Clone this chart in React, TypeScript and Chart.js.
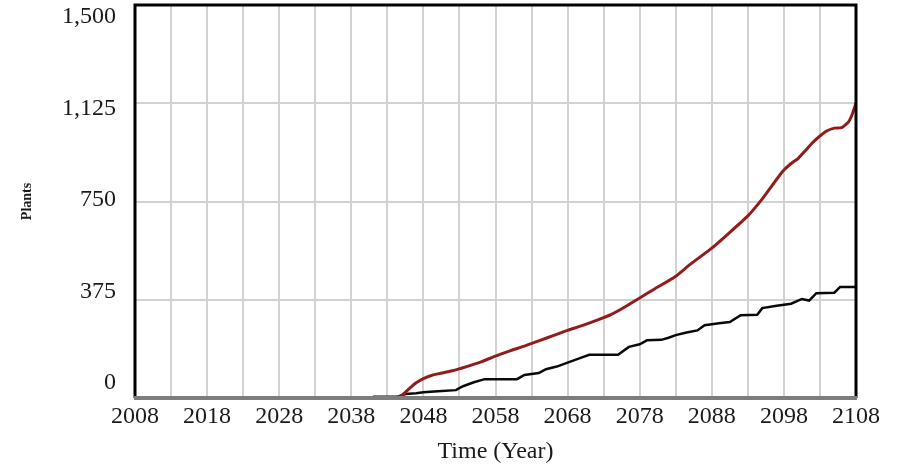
import React, { useEffect, useRef } from 'react';
import { Chart, registerables } from 'chart.js';

Chart.register(...registerables);

const xMin = 2008;
const xMax = 2108;
const yTickLabels = [0, 375, 750, 1125, 1500];

const redYears = [2044, 2045, 2046, 2047, 2048, 2049, 2050, 2052, 2054, 2056, 2058, 2060, 2062, 2064, 2066, 2068, 2070, 2072, 2074, 2076, 2078, 2080, 2083, 2085, 2088, 2090, 2093, 2095, 2097, 2098, 2099, 2100, 2101, 2102, 2103, 2104, 2105, 2106, 2107, 2107.5, 2108];
const redValues = [0, 10, 35, 58, 74, 85, 92, 104, 120, 138, 160, 180, 198, 218, 238, 258, 276, 296, 318, 348, 382, 415, 465, 510, 572, 620, 695, 760, 835, 870, 895, 915, 945, 975, 1000, 1020, 1030, 1032, 1055, 1085, 1126];

const blackYears = [2041, 2044.5, 2045.5, 2047, 2048, 2050, 2052.5, 2053.5, 2055, 2056.5, 2061, 2062, 2064, 2065, 2066.5, 2068, 2070, 2071, 2075, 2076.5, 2078, 2079, 2081, 2082, 2083, 2084.5, 2086, 2087, 2089, 2090.5, 2092, 2094.3, 2095, 2097, 2099, 2100.5, 2101.5, 2102.5, 2105, 2105.8, 2108];
const blackValues = [5, 5, 15, 18, 22, 26, 30, 45, 60, 72, 72, 88, 95, 110, 120, 135, 155, 165, 165, 195, 205, 220, 222, 230, 240, 250, 258, 278, 285, 290, 316, 318, 343, 352, 360, 378, 372, 400, 402, 424, 424];

const serif = '"Liberation Serif", "Times New Roman", serif';

const framePlugin = {
  id: 'frame',
  afterDatasetsDraw(chart: any) {
    const { ctx, chartArea } = chart;
    const { left, right, top, bottom } = chartArea;
    ctx.save();
    ctx.strokeStyle = '#000';
    ctx.lineWidth = 3;
    ctx.beginPath();
    ctx.moveTo(left, bottom);
    ctx.lineTo(left, top);
    ctx.lineTo(right, top);
    ctx.lineTo(right, bottom);
    ctx.stroke();
    ctx.strokeStyle = '#7d7d7d';
    ctx.lineWidth = 4;
    ctx.beginPath();
    ctx.moveTo(left - 1, bottom);
    ctx.lineTo(right + 1, bottom);
    ctx.stroke();
    ctx.restore();
  },
};

export default function App() {
  const canvasRef = useRef<HTMLCanvasElement | null>(null);

  useEffect(() => {
    if (!canvasRef.current) return;
    const chart = new Chart(canvasRef.current, {
      type: 'line',
      data: {
        datasets: [
          {
            label: 'Red',
            data: redYears.map((x, i) => ({ x, y: redValues[i] })),
            borderColor: '#921c1c',
            borderWidth: 3,
            pointRadius: 0,
            tension: 0.2,
            yAxisID: 'y',
          },
          {
            label: 'Black',
            data: blackYears.map((x, i) => ({ x, y: blackValues[i] })),
            borderColor: '#0a0a0a',
            borderWidth: 2.5,
            pointRadius: 0,
            tension: 0,
            yAxisID: 'y',
          },
        ],
      },
      options: {
        animation: false,
        responsive: true,
        maintainAspectRatio: false,
        layout: { padding: { top: 5, right: 49, left: 0, bottom: 0 } },
        plugins: { legend: { display: false }, tooltip: { enabled: false } },
        scales: {
          x: {
            type: 'linear',
            min: xMin,
            max: xMax,
            border: { display: false },
            grid: { color: '#d2d2d2', lineWidth: 2, drawTicks: false },
            ticks: {
              stepSize: 5,
              autoSkip: false,
              maxRotation: 0,
              padding: 4,
              color: '#1a1a1a',
              font: { family: serif, size: 24 },
              callback: (v: any) => ((Number(v) - xMin) % 10 === 0 ? String(v) : ''),
            },
            title: {
              display: true,
              text: 'Time (Year)',
              color: '#1a1a1a',
              font: { family: serif, size: 24 },
              padding: { top: 0, bottom: 0 },
            },
            afterFit: (s: any) => {
              s.height = 68;
              s.paddingLeft = 0;
              s.paddingRight = 0;
            },
          },
          y: {
            type: 'linear',
            position: 'left',
            min: 0,
            max: 1500,
            border: { display: false },
            grid: { color: '#d2d2d2', lineWidth: 2, drawTicks: false },
            ticks: { stepSize: 375, display: false },
            afterFit: (s: any) => {
              s.width = 0;
              s.paddingTop = 0;
              s.paddingBottom = 0;
            },
          },
          yl: {
            type: 'linear',
            position: 'left',
            min: -61.5,
            max: 1549.2,
            border: { display: false },
            grid: { display: false, drawTicks: false },
            afterBuildTicks: (s: any) => {
              s.ticks = yTickLabels.map((v) => ({ value: v }));
            },
            ticks: {
              padding: 19,
              color: '#1a1a1a',
              font: { family: serif, size: 24 },
              callback: (v: any) => Number(v).toLocaleString('en-US'),
            },
            title: {
              display: true,
              text: 'Plants',
              color: '#1a1a1a',
              font: { family: serif, size: 14, weight: 'bold' },
              padding: { top: 19, bottom: 0 },
            },
            afterFit: (s: any) => {
              s.width = 135;
              s.paddingTop = 0;
              s.paddingBottom = 0;
            },
          },
        },
      },
      plugins: [framePlugin],
    } as any);
    return () => chart.destroy();
  }, []);

  return (
    <div style={{ position: 'absolute', left: 0, top: 0, width: 905, height: 466, background: '#fff' }}>
      <canvas ref={canvasRef} />
    </div>
  );
}
